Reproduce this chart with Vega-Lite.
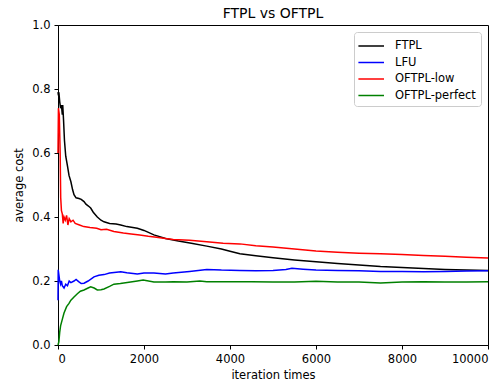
{
  "$schema": "https://vega.github.io/schema/vega-lite/v6.json",
  "autosize": {"type": "none"},
  "padding": {"left": 58, "top": 25, "right": 16, "bottom": 38},
  "width": 430,
  "height": 320,
  "title": {"text": "FTPL vs OFTPL", "font": "DejaVu Sans", "fontSize": 14, "fontWeight": "normal", "color": "#000", "offset": -2},
  "config": {
    "view": {"stroke": "#000", "strokeWidth": 1},
    "axis": {"labelFont": "DejaVu Sans", "labelFontSize": 11.5, "labelColor": "#000", "titleFont": "DejaVu Sans", "titleFontSize": 11.5, "titleFontWeight": "normal", "titleColor": "#000", "tickColor": "#000", "tickSize": 4, "domainColor": "#000", "grid": false},
    "axisX": {"labelPadding": 4, "titlePadding": 5},
    "axisY": {"labelPadding": 4, "titlePadding": 7}
  },
  "data": {"values": [
    {"series":"FTPL","x":0,"y":0.79},{"series":"FTPL","x":10,"y":0.78},{"series":"FTPL","x":20,"y":0.79},{"series":"FTPL","x":40,"y":0.76},{"series":"FTPL","x":60,"y":0.74},{"series":"FTPL","x":80,"y":0.75},{"series":"FTPL","x":100,"y":0.72},{"series":"FTPL","x":110,"y":0.75},{"series":"FTPL","x":130,"y":0.70},{"series":"FTPL","x":150,"y":0.64},{"series":"FTPL","x":180,"y":0.59},{"series":"FTPL","x":220,"y":0.56},{"series":"FTPL","x":256,"y":0.53},{"series":"FTPL","x":300,"y":0.51},{"series":"FTPL","x":340,"y":0.485},{"series":"FTPL","x":372,"y":0.47},{"series":"FTPL","x":420,"y":0.46},{"series":"FTPL","x":488,"y":0.458},{"series":"FTPL","x":540,"y":0.455},{"series":"FTPL","x":605,"y":0.448},{"series":"FTPL","x":650,"y":0.44},{"series":"FTPL","x":700,"y":0.435},{"series":"FTPL","x":760,"y":0.428},{"series":"FTPL","x":820,"y":0.415},{"series":"FTPL","x":914,"y":0.40},{"series":"FTPL","x":1000,"y":0.39},{"series":"FTPL","x":1070,"y":0.385},{"series":"FTPL","x":1200,"y":0.38},{"series":"FTPL","x":1350,"y":0.378},{"series":"FTPL","x":1460,"y":0.375},{"series":"FTPL","x":1600,"y":0.37},{"series":"FTPL","x":1845,"y":0.365},{"series":"FTPL","x":2000,"y":0.358},{"series":"FTPL","x":2230,"y":0.344},{"series":"FTPL","x":2500,"y":0.333},{"series":"FTPL","x":2800,"y":0.325},{"series":"FTPL","x":3100,"y":0.318},{"series":"FTPL","x":3460,"y":0.309},{"series":"FTPL","x":3800,"y":0.3},{"series":"FTPL","x":4000,"y":0.293},{"series":"FTPL","x":4230,"y":0.285},{"series":"FTPL","x":4600,"y":0.279},{"series":"FTPL","x":5000,"y":0.273},{"series":"FTPL","x":5500,"y":0.266},{"series":"FTPL","x":6000,"y":0.26},{"series":"FTPL","x":6500,"y":0.255},{"series":"FTPL","x":7000,"y":0.25},{"series":"FTPL","x":7500,"y":0.245},{"series":"FTPL","x":8000,"y":0.242},{"series":"FTPL","x":8500,"y":0.239},{"series":"FTPL","x":9000,"y":0.236},{"series":"FTPL","x":9500,"y":0.234},{"series":"FTPL","x":10000,"y":0.233},
    {"series":"LFU","x":0,"y":0.14},{"series":"LFU","x":5,"y":0.235},{"series":"LFU","x":20,"y":0.22},{"series":"LFU","x":40,"y":0.2},{"series":"LFU","x":60,"y":0.19},{"series":"LFU","x":80,"y":0.2},{"series":"LFU","x":100,"y":0.185},{"series":"LFU","x":140,"y":0.178},{"series":"LFU","x":180,"y":0.19},{"series":"LFU","x":220,"y":0.185},{"series":"LFU","x":260,"y":0.2},{"series":"LFU","x":300,"y":0.195},{"series":"LFU","x":372,"y":0.2},{"series":"LFU","x":420,"y":0.205},{"series":"LFU","x":480,"y":0.198},{"series":"LFU","x":540,"y":0.192},{"series":"LFU","x":605,"y":0.193},{"series":"LFU","x":700,"y":0.2},{"series":"LFU","x":837,"y":0.213},{"series":"LFU","x":950,"y":0.218},{"series":"LFU","x":1070,"y":0.22},{"series":"LFU","x":1200,"y":0.225},{"series":"LFU","x":1460,"y":0.229},{"series":"LFU","x":1600,"y":0.226},{"series":"LFU","x":1845,"y":0.222},{"series":"LFU","x":2000,"y":0.225},{"series":"LFU","x":2230,"y":0.225},{"series":"LFU","x":2500,"y":0.222},{"series":"LFU","x":2680,"y":0.225},{"series":"LFU","x":3060,"y":0.23},{"series":"LFU","x":3460,"y":0.236},{"series":"LFU","x":3800,"y":0.234},{"series":"LFU","x":4230,"y":0.233},{"series":"LFU","x":4600,"y":0.232},{"series":"LFU","x":5000,"y":0.233},{"series":"LFU","x":5300,"y":0.236},{"series":"LFU","x":5440,"y":0.24},{"series":"LFU","x":5700,"y":0.237},{"series":"LFU","x":6000,"y":0.234},{"series":"LFU","x":6500,"y":0.233},{"series":"LFU","x":7000,"y":0.232},{"series":"LFU","x":7500,"y":0.23},{"series":"LFU","x":8000,"y":0.23},{"series":"LFU","x":8500,"y":0.229},{"series":"LFU","x":9000,"y":0.23},{"series":"LFU","x":9500,"y":0.231},{"series":"LFU","x":10000,"y":0.232},
    {"series":"OFTPL-low","x":0,"y":0.6},{"series":"OFTPL-low","x":10,"y":0.74},{"series":"OFTPL-low","x":30,"y":0.72},{"series":"OFTPL-low","x":50,"y":0.6},{"series":"OFTPL-low","x":63,"y":0.46},{"series":"OFTPL-low","x":80,"y":0.42},{"series":"OFTPL-low","x":100,"y":0.41},{"series":"OFTPL-low","x":120,"y":0.38},{"series":"OFTPL-low","x":140,"y":0.40},{"series":"OFTPL-low","x":170,"y":0.39},{"series":"OFTPL-low","x":200,"y":0.405},{"series":"OFTPL-low","x":230,"y":0.375},{"series":"OFTPL-low","x":260,"y":0.395},{"series":"OFTPL-low","x":300,"y":0.385},{"series":"OFTPL-low","x":350,"y":0.39},{"series":"OFTPL-low","x":400,"y":0.38},{"series":"OFTPL-low","x":500,"y":0.375},{"series":"OFTPL-low","x":600,"y":0.37},{"series":"OFTPL-low","x":744,"y":0.367},{"series":"OFTPL-low","x":900,"y":0.365},{"series":"OFTPL-low","x":1000,"y":0.36},{"series":"OFTPL-low","x":1130,"y":0.362},{"series":"OFTPL-low","x":1300,"y":0.355},{"series":"OFTPL-low","x":1520,"y":0.35},{"series":"OFTPL-low","x":1700,"y":0.347},{"series":"OFTPL-low","x":1900,"y":0.344},{"series":"OFTPL-low","x":2100,"y":0.34},{"series":"OFTPL-low","x":2290,"y":0.337},{"series":"OFTPL-low","x":2500,"y":0.333},{"series":"OFTPL-low","x":2680,"y":0.33},{"series":"OFTPL-low","x":3060,"y":0.327},{"series":"OFTPL-low","x":3460,"y":0.323},{"series":"OFTPL-low","x":3840,"y":0.318},{"series":"OFTPL-low","x":4230,"y":0.316},{"series":"OFTPL-low","x":4600,"y":0.31},{"series":"OFTPL-low","x":5000,"y":0.306},{"series":"OFTPL-low","x":5500,"y":0.3},{"series":"OFTPL-low","x":6000,"y":0.294},{"series":"OFTPL-low","x":6500,"y":0.29},{"series":"OFTPL-low","x":7000,"y":0.287},{"series":"OFTPL-low","x":7500,"y":0.285},{"series":"OFTPL-low","x":8000,"y":0.283},{"series":"OFTPL-low","x":8500,"y":0.28},{"series":"OFTPL-low","x":9000,"y":0.277},{"series":"OFTPL-low","x":9500,"y":0.274},{"series":"OFTPL-low","x":10000,"y":0.272},
    {"series":"OFTPL-perfect","x":0,"y":0.0},{"series":"OFTPL-perfect","x":20,"y":0.01},{"series":"OFTPL-perfect","x":40,"y":0.04},{"series":"OFTPL-perfect","x":60,"y":0.06},{"series":"OFTPL-perfect","x":100,"y":0.08},{"series":"OFTPL-perfect","x":140,"y":0.1},{"series":"OFTPL-perfect","x":200,"y":0.12},{"series":"OFTPL-perfect","x":256,"y":0.13},{"series":"OFTPL-perfect","x":300,"y":0.14},{"series":"OFTPL-perfect","x":372,"y":0.15},{"series":"OFTPL-perfect","x":450,"y":0.16},{"series":"OFTPL-perfect","x":520,"y":0.168},{"series":"OFTPL-perfect","x":605,"y":0.172},{"series":"OFTPL-perfect","x":700,"y":0.178},{"series":"OFTPL-perfect","x":760,"y":0.182},{"series":"OFTPL-perfect","x":840,"y":0.178},{"series":"OFTPL-perfect","x":914,"y":0.172},{"series":"OFTPL-perfect","x":1000,"y":0.173},{"series":"OFTPL-perfect","x":1070,"y":0.175},{"series":"OFTPL-perfect","x":1200,"y":0.183},{"series":"OFTPL-perfect","x":1300,"y":0.19},{"series":"OFTPL-perfect","x":1450,"y":0.192},{"series":"OFTPL-perfect","x":1610,"y":0.195},{"series":"OFTPL-perfect","x":1845,"y":0.2},{"series":"OFTPL-perfect","x":1980,"y":0.203},{"series":"OFTPL-perfect","x":2230,"y":0.197},{"series":"OFTPL-perfect","x":2500,"y":0.197},{"series":"OFTPL-perfect","x":2680,"y":0.198},{"series":"OFTPL-perfect","x":3000,"y":0.197},{"series":"OFTPL-perfect","x":3300,"y":0.2},{"series":"OFTPL-perfect","x":3460,"y":0.198},{"series":"OFTPL-perfect","x":4000,"y":0.198},{"series":"OFTPL-perfect","x":4500,"y":0.198},{"series":"OFTPL-perfect","x":5000,"y":0.197},{"series":"OFTPL-perfect","x":5500,"y":0.197},{"series":"OFTPL-perfect","x":6000,"y":0.199},{"series":"OFTPL-perfect","x":6500,"y":0.197},{"series":"OFTPL-perfect","x":7000,"y":0.197},{"series":"OFTPL-perfect","x":7500,"y":0.194},{"series":"OFTPL-perfect","x":8000,"y":0.197},{"series":"OFTPL-perfect","x":8500,"y":0.198},{"series":"OFTPL-perfect","x":9000,"y":0.197},{"series":"OFTPL-perfect","x":9500,"y":0.197},{"series":"OFTPL-perfect","x":10000,"y":0.198}
  ]},
  "mark": {"type": "line", "strokeWidth": 1.5},
  "encoding": {
    "x": {"field": "x", "type": "quantitative", "scale": {"domain": [0, 10000], "nice": false}, "axis": {"title": "iteration times", "values": [0, 2000, 4000, 6000, 8000, 10000], "format": "d"}},
    "y": {"field": "y", "type": "quantitative", "scale": {"domain": [0, 1], "nice": false}, "axis": {"title": "average cost", "values": [0, 0.2, 0.4, 0.6, 0.8, 1.0], "format": ".1f"}},
    "color": {"field": "series", "type": "nominal",
      "scale": {"domain": ["FTPL", "LFU", "OFTPL-low", "OFTPL-perfect"], "range": ["#000000", "#0000ff", "#ff0000", "#008000"]},
      "legend": {"title": null, "orient": "top-right", "offset": 7, "padding": 5, "strokeColor": "#cccccc", "fillColor": "#ffffff", "cornerRadius": 3, "symbolType": "M-1.2,0H2", "symbolSize": 256, "symbolStrokeWidth": 1.5, "labelFont": "DejaVu Sans", "labelFontSize": 11.5, "labelColor": "#000", "labelOffset": 18, "rowPadding": 1.5}}
  }
}
